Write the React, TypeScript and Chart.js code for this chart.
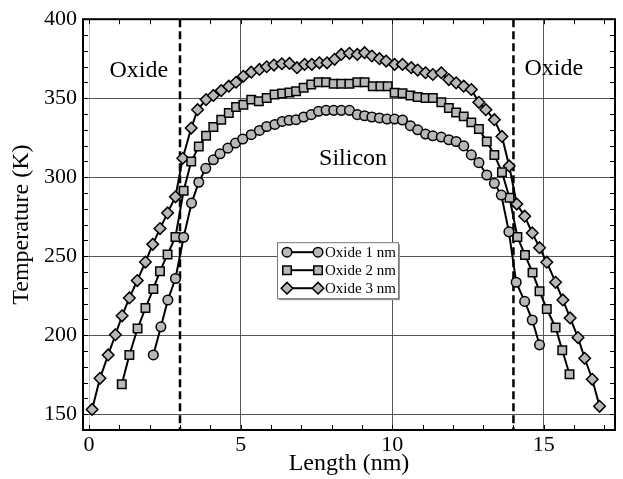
import React, { useEffect, useRef } from "react";
import { Chart, registerables } from "chart.js";

Chart.register(...registerables);

const xTickValues = [0, 5, 10, 15];
const yTickValues = [150, 200, 250, 300, 350, 400];

const seriesLabels = ["Oxide 1 nm", "Oxide 2 nm", "Oxide 3 nm"];

const ox1X = [2.12, 2.37, 2.60, 2.85, 3.12, 3.38, 3.62, 3.85, 4.10, 4.32, 4.58, 4.83, 5.07, 5.35, 5.62, 5.86, 6.13, 6.37, 6.60, 6.83, 7.08, 7.33, 7.57, 7.82, 8.07, 8.32, 8.59, 8.85, 9.09, 9.33, 9.58, 9.83, 10.08, 10.34, 10.60, 10.84, 11.10, 11.34, 11.62, 11.87, 12.11, 12.36, 12.61, 12.86, 13.12, 13.37, 13.60, 13.85, 14.09, 14.37, 14.62, 14.86];
const ox1Y = [187.5, 205.3, 222.3, 235.9, 262.0, 283.6, 296.8, 305.6, 311.0, 314.8, 318.4, 321.6, 324.2, 326.9, 329.6, 332.1, 333.4, 335.3, 336.0, 336.4, 338.1, 339.6, 341.7, 342.3, 342.3, 342.3, 342.3, 339.6, 338.9, 338.1, 337.5, 336.8, 336.8, 336.2, 332.6, 330.0, 327.3, 326.2, 325.4, 323.7, 322.6, 319.8, 314.1, 309.2, 301.4, 296.1, 288.7, 265.4, 233.5, 221.4, 209.6, 193.9];

const ox2X = [1.08, 1.33, 1.60, 1.86, 2.12, 2.34, 2.59, 2.85, 3.12, 3.37, 3.62, 3.86, 4.10, 4.36, 4.61, 4.85, 5.09, 5.35, 5.60, 5.86, 6.12, 6.37, 6.61, 6.83, 7.08, 7.33, 7.57, 7.82, 8.07, 8.32, 8.59, 8.85, 9.09, 9.36, 9.61, 9.85, 10.08, 10.34, 10.60, 10.84, 11.10, 11.34, 11.62, 11.87, 12.11, 12.36, 12.61, 12.86, 13.12, 13.37, 13.62, 13.87, 14.13, 14.38, 14.63, 14.86, 15.10, 15.39, 15.61, 15.85];
const ox2Y = [168.9, 187.5, 204.2, 217.2, 229.3, 240.5, 251.1, 262.2, 291.4, 309.9, 319.4, 326.2, 331.7, 336.4, 340.6, 344.5, 345.9, 349.1, 348.0, 350.2, 352.3, 353.0, 353.6, 354.4, 356.6, 358.7, 360.1, 360.1, 359.1, 359.1, 359.1, 360.1, 360.1, 357.6, 357.6, 357.6, 353.4, 353.2, 351.7, 350.8, 350.2, 350.2, 347.4, 343.8, 341.0, 338.5, 334.7, 330.5, 322.6, 314.1, 303.2, 287.0, 262.2, 250.8, 239.6, 227.8, 216.6, 204.9, 190.5, 175.3];

const ox3X = [0.10, 0.36, 0.63, 0.87, 1.09, 1.33, 1.59, 1.86, 2.10, 2.34, 2.59, 2.85, 3.09, 3.37, 3.58, 3.86, 4.10, 4.36, 4.61, 4.85, 5.09, 5.35, 5.62, 5.86, 6.10, 6.36, 6.61, 6.86, 7.11, 7.35, 7.60, 7.85, 8.10, 8.32, 8.59, 8.85, 9.09, 9.33, 9.58, 9.80, 10.08, 10.34, 10.63, 10.84, 11.10, 11.34, 11.62, 11.87, 12.11, 12.36, 12.61, 12.86, 13.09, 13.37, 13.62, 13.86, 14.11, 14.37, 14.62, 14.86, 15.10, 15.39, 15.63, 15.87, 16.13, 16.35, 16.60, 16.84];
const ox3Y = [153.0, 172.7, 187.5, 200.3, 212.3, 223.6, 234.6, 246.3, 257.5, 267.5, 277.4, 287.6, 312.0, 331.1, 342.7, 349.1, 351.7, 354.8, 357.6, 360.1, 363.9, 366.5, 368.2, 369.9, 371.0, 371.8, 372.0, 369.3, 371.4, 371.4, 372.4, 372.4, 374.6, 377.7, 378.4, 377.7, 378.8, 376.7, 375.0, 373.5, 371.4, 371.4, 369.3, 367.8, 366.1, 365.0, 366.1, 361.8, 359.7, 357.6, 355.5, 347.4, 342.7, 336.4, 325.8, 307.1, 283.0, 275.3, 264.7, 255.4, 246.2, 233.5, 222.3, 210.9, 198.5, 185.4, 172.1, 155.0];

const oxideBoundaries = [3, 14];
const regionLabels = [
  { text: "Oxide", x: 1.64, y: 367.5 },
  { text: "Oxide", x: 15.33, y: 368.6 },
  { text: "Silicon", x: 8.71, y: 311.6 },
];

const SERIF = "'Liberation Serif', 'DejaVu Serif', serif";
const MARKER_FILL = "#b8b8b8";
const pointStyles = ["circle", "rect", "rectRot"];
const pointRadii = [4.8, 6.0, 5.8];

function toPoints(xs: number[], ys: number[]) {
  return xs.map((x, i) => ({ x, y: ys[i] }));
}

function drawMarker(ctx: CanvasRenderingContext2D, style: string, r: number, x: number, y: number) {
  ctx.beginPath();
  if (style === "circle") {
    ctx.arc(x, y, r, 0, Math.PI * 2);
  } else if (style === "rect") {
    const s = r * Math.SQRT1_2;
    ctx.rect(x - s, y - s, 2 * s, 2 * s);
  } else {
    ctx.moveTo(x, y - r);
    ctx.lineTo(x + r, y);
    ctx.lineTo(x, y + r);
    ctx.lineTo(x - r, y);
    ctx.closePath();
  }
  ctx.fillStyle = MARKER_FILL;
  ctx.fill();
  ctx.lineWidth = 1.5;
  ctx.strokeStyle = "#000";
  ctx.stroke();
}

const overlayPlugin = {
  id: "overlay",
  beforeDatasetsDraw(chart: any) {
    const { ctx, chartArea: a, scales } = chart;
    const xs = scales.x;
    const ys = scales.y;
    ctx.save();
    ctx.strokeStyle = "#000";
    ctx.lineWidth = 1;
    const tl = 5;
    for (let v = 0; v <= 17; v += 1) {
      const px = Math.round(xs.getPixelForValue(v)) + 0.5;
      ctx.beginPath();
      ctx.moveTo(px, a.bottom);
      ctx.lineTo(px, a.bottom - tl);
      ctx.moveTo(px, a.top);
      ctx.lineTo(px, a.top + tl);
      ctx.stroke();
    }
    for (let v = 150; v <= 390; v += 10) {
      const py = Math.round(ys.getPixelForValue(v)) + 0.5;
      ctx.beginPath();
      ctx.moveTo(a.left, py);
      ctx.lineTo(a.left + tl, py);
      ctx.moveTo(a.right, py);
      ctx.lineTo(a.right - tl, py);
      ctx.stroke();
    }
    ctx.setLineDash([8, 4]);
    ctx.lineWidth = 2.5;
    for (const b of oxideBoundaries) {
      const px = xs.getPixelForValue(b);
      ctx.beginPath();
      ctx.moveTo(px, a.top);
      ctx.lineTo(px, a.bottom);
      ctx.stroke();
    }
    ctx.setLineDash([]);
    ctx.fillStyle = "#000";
    ctx.font = `24px ${SERIF}`;
    ctx.textAlign = "center";
    ctx.textBaseline = "middle";
    for (const l of regionLabels) {
      ctx.fillText(l.text, xs.getPixelForValue(l.x), ys.getPixelForValue(l.y));
    }
    ctx.restore();
  },
  afterDatasetsDraw(chart: any) {
    const { ctx, chartArea: a } = chart;
    ctx.save();
    const lx = a.left + 194;
    const ly = a.top + 223;
    const lw = 121;
    const lh = 56;
    ctx.fillStyle = "#999";
    ctx.fillRect(lx + 2, ly + 2, lw, lh);
    ctx.fillStyle = "#fff";
    ctx.fillRect(lx, ly, lw, lh);
    ctx.strokeStyle = "#777";
    ctx.lineWidth = 1;
    ctx.strokeRect(lx + 0.5, ly + 0.5, lw, lh);
    ctx.font = `15px ${SERIF}`;
    ctx.textAlign = "left";
    ctx.textBaseline = "middle";
    seriesLabels.forEach((lab, i) => {
      const cy = ly + 10 + i * 18;
      const x0 = lx + 10;
      const x1 = lx + 41;
      ctx.strokeStyle = "#000";
      ctx.lineWidth = 2;
      ctx.beginPath();
      ctx.moveTo(x0, cy);
      ctx.lineTo(x1, cy);
      ctx.stroke();
      drawMarker(ctx, pointStyles[i], pointRadii[i], x0, cy);
      drawMarker(ctx, pointStyles[i], pointRadii[i], x1, cy);
      ctx.fillStyle = "#000";
      ctx.fillText(lab, lx + 48, cy + 1);
    });
    ctx.strokeStyle = "#000";
    ctx.lineWidth = 2;
    ctx.strokeRect(a.left, a.top, a.right - a.left, a.bottom - a.top);
    ctx.restore();
  },
};

export default function App() {
  const canvasRef = useRef<HTMLCanvasElement | null>(null);

  useEffect(() => {
    const canvas = canvasRef.current;
    if (!canvas) return;
    const seriesX = [ox1X, ox2X, ox3X];
    const seriesY = [ox1Y, ox2Y, ox3Y];
    const datasets = seriesLabels.map((label, i) => ({
      label,
      data: toPoints(seriesX[i], seriesY[i]),
      borderColor: "#000",
      borderWidth: 2,
      pointStyle: pointStyles[i],
      pointRadius: pointRadii[i],
      pointBackgroundColor: MARKER_FILL,
      pointBorderColor: "#000",
      pointBorderWidth: 1.5,
      fill: false,
      tension: 0,
    }));
    const chart = new Chart(canvas, {
      type: "line",
      data: { datasets },
      options: {
        animation: false,
        responsive: true,
        maintainAspectRatio: false,
        layout: { padding: { top: 18, right: 8, left: 0, bottom: 0 } },
        plugins: { legend: { display: false }, tooltip: { enabled: false } },
        scales: {
          x: {
            type: "linear",
            min: -0.2,
            max: 17.35,
            afterBuildTicks: (axis: any) => {
              axis.ticks = xTickValues.map((v) => ({ value: v }));
            },
            afterFit: (scale: any) => {
              scale.height = 49;
            },
            ticks: {
              color: "#000",
              font: { family: SERIF, size: 22 },
              padding: 2,
              maxRotation: 0,
              autoSkip: false,
            },
            grid: {
              drawTicks: false,
              color: (c: any) => (c.tick && c.tick.value === 0 ? "#c8c8c8" : "#555"),
              lineWidth: 1,
            },
            border: { display: false },
            title: {
              display: true,
              text: "Length (nm)",
              color: "#000",
              font: { family: SERIF, size: 24 },
              padding: { top: 0, bottom: 1 },
            },
          },
          y: {
            type: "linear",
            min: 140,
            max: 400,
            afterBuildTicks: (axis: any) => {
              axis.ticks = yTickValues.map((v) => ({ value: v }));
            },
            afterFit: (scale: any) => {
              scale.width = 83;
            },
            ticks: {
              color: "#000",
              font: { family: SERIF, size: 22 },
              padding: 6,
              autoSkip: false,
            },
            grid: { drawTicks: false, color: "#555", lineWidth: 1 },
            border: { display: false },
            title: {
              display: true,
              text: "Temperature (K)",
              color: "#000",
              font: { family: SERIF, size: 24 },
              padding: { top: 7, bottom: 0 },
            },
          },
        },
      },
      plugins: [overlayPlugin],
    });
    return () => chart.destroy();
  }, []);

  return (
    <div style={{ position: "fixed", left: 0, top: 0, width: 623, height: 479, background: "#fff" }}>
      <canvas ref={canvasRef} />
    </div>
  );
}
